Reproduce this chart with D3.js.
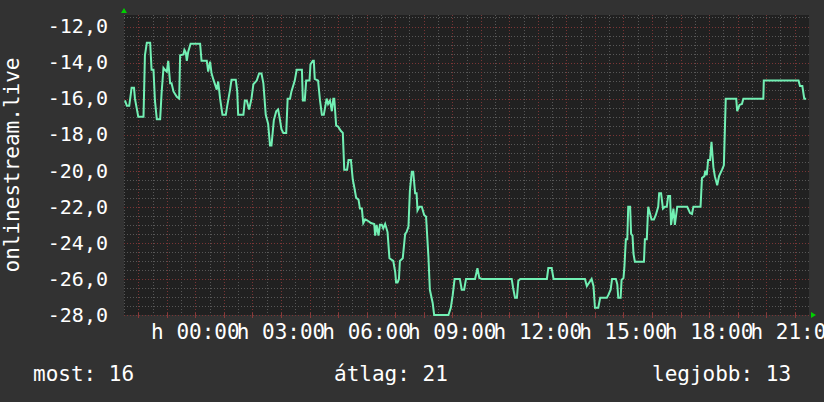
<!DOCTYPE html>
<html>
<head>
<meta charset="utf-8">
<script src="https://cdn.jsdelivr.net/npm/d3@7"></script>
<style>
  html, body { margin: 0; padding: 0; background: #323232; }
  svg { display: block; }
</style>
</head>
<body>
<script>
// minutes since window start (21:30 the day before) and the value at that time
const minutes = [
  2, 6, 11, 16, 21, 23, 30, 41, 44, 48, 55, 58, 62, 65, 69, 76, 79, 83, 86, 90,
  93, 97, 100, 104, 111, 116, 118, 125, 127, 130, 132, 135, 140, 160, 163, 174, 177, 181, 184, 188,
  195, 198, 202, 207, 214, 217, 223, 226, 235, 238, 240, 251, 254, 258, 263, 268, 272, 279, 284, 289,
  293, 298, 303, 307, 310, 315, 320, 324, 328, 331, 335, 341, 344, 349, 352, 359, 363, 374, 376, 380,
  383, 390, 392, 397, 399, 401, 408, 412, 416, 420, 426, 429, 433, 437, 440, 442, 446, 450, 456, 460,
  463, 469, 472, 477, 481, 484, 488, 493, 496, 500, 503, 507, 514, 519, 526, 528, 531, 535, 538, 542,
  545, 549, 554, 558, 566, 570, 572, 575, 578, 580, 586, 591, 594, 598, 601, 605, 608, 612, 615, 617,
  621, 626, 631, 635, 640, 643, 649, 652, 682, 687, 691, 695, 706, 710, 715, 719, 738, 743, 747, 752,
  815, 818, 822, 826, 829, 833, 889, 892, 899, 903, 969, 973, 978, 983, 987, 990, 997, 1001, 1015, 1018,
  1023, 1026, 1034, 1037, 1039, 1044, 1046, 1050, 1052, 1055, 1058, 1060, 1064, 1066, 1069, 1071, 1074, 1093, 1095, 1099,
  1102, 1106, 1109, 1114, 1118, 1123, 1125, 1129, 1133, 1137, 1141, 1144, 1148, 1150, 1155, 1158, 1163, 1184, 1190, 1194,
  1197, 1212, 1215, 1220, 1222, 1225, 1228, 1232, 1235, 1239, 1242, 1247, 1251, 1257, 1261, 1265, 1287, 1289, 1294, 1299,
  1302, 1344, 1345, 1418, 1421, 1426, 1430, 1434
];
const values = [
  -16.1, -16.4, -16.4, -15.4, -15.4, -16.0, -17.0, -17.0, -13.6, -12.9, -12.9, -14.4, -14.4, -16.1, -17.15, -17.15, -15.7, -14.3, -14.4, -14.5,
  -13.9, -15.15, -15.15, -15.6, -15.9, -16.0, -13.6, -13.55, -13.3, -13.45, -13.9, -13.4, -12.95, -12.95, -13.9, -13.9, -14.5, -13.95, -14.6, -14.95,
  -15.5, -15.05, -16.0, -16.9, -16.9, -16.4, -15.5, -14.95, -14.95, -15.6, -16.9, -16.9, -16.1, -16.1, -16.6, -16.0, -15.2, -15.0, -14.6, -14.6,
  -15.15, -16.9, -17.4, -18.6, -18.6, -17.2, -16.7, -16.6, -17.2, -17.7, -17.9, -17.9, -16.0, -16.0, -15.6, -15.0, -14.4, -14.4, -16.1, -16.1,
  -15.0, -15.0, -14.1, -13.9, -13.9, -14.9, -15.0, -16.1, -16.9, -16.9, -16.0, -16.3, -16.1, -16.7, -16.0, -16.0, -17.5, -17.55, -17.8, -17.9,
  -19.95, -19.95, -19.4, -19.4, -20.5, -20.9, -21.5, -21.6, -22.1, -22.1, -22.9, -22.7, -22.8, -22.9, -22.95, -23.6, -23.0, -23.6, -23.0, -23.0,
  -23.2, -22.95, -23.4, -24.85, -25.0, -25.6, -26.2, -26.2, -26.0, -25.0, -24.85, -23.5, -23.4, -23.1, -21.1, -20.05, -20.05, -21.25, -21.25, -22.2,
  -22.0, -22.0, -22.45, -22.55, -24.8, -26.6, -27.35, -28.0, -28.0, -27.6, -26.9, -26.0, -26.0, -26.6, -26.6, -26.0, -26.0, -25.4, -25.95, -26.0,
  -26.0, -26.5, -27.05, -27.05, -26.1, -26.0, -26.0, -25.4, -25.4, -26.0, -26.0, -26.4, -26.2, -26.0, -26.4, -27.6, -27.6, -27.05, -27.05, -26.9,
  -26.6, -26.0, -26.0, -26.3, -27.05, -27.05, -26.05, -25.95, -25.3, -23.8, -23.8, -22.0, -22.0, -23.5, -23.6, -24.6, -25.05, -25.05, -23.8, -23.8,
  -22.0, -22.4, -22.7, -22.7, -22.45, -22.0, -21.25, -21.25, -22.1, -22.0, -22.0, -21.4, -21.4, -23.0, -22.1, -23.0, -22.0, -22.0, -22.35, -22.4,
  -22.0, -22.0, -20.4, -20.3, -20.0, -20.25, -19.4, -19.4, -18.4, -19.8, -20.3, -20.8, -20.3, -19.95, -19.7, -16.0, -16.0, -16.7, -16.35, -16.3,
  -16.0, -16.0, -15.0, -15.0, -15.3, -15.3, -16.0, -16.0
];

const yTicks = [-12, -14, -16, -18, -20, -22, -24, -26, -28];
const xTickHours = [0, 3, 6, 9, 12, 15, 18, 21];
const xTickLabels = ['h 00:00', 'h 03:00', 'h 06:00', 'h 09:00', 'h 12:00', 'h 15:00', 'h 18:00', 'h 21:00'];
const axisTitle = 'onlinestream.live';
const legendLabels = ['most', 'átlag', 'legjobb'];
const legendValues = [16, 21, 13];

const width = 824, height = 402;
const startHour = 21.5; // window starts at 21:30
const plot = { left: 124, right: 809, top: 15, bottom: 315 };

const svg = d3.select('body').append('svg')
  .attr('width', width)
  .attr('height', height)
  .style('font-family', '"DejaVu Sans Mono", monospace');

svg.append('rect').attr('width', width).attr('height', height).attr('fill', '#323232');

const x = d3.scaleLinear().domain([0, 1440]).range([plot.left, plot.right]);
const y = d3.scaleLinear().domain([-28, -12]).range([plot.bottom, 26.5]);

svg.append('rect')
  .attr('x', plot.left).attr('y', plot.top)
  .attr('width', plot.right - plot.left).attr('height', plot.bottom - plot.top)
  .attr('fill', '#212121');

const grid = svg.append('g').attr('shape-rendering', 'crispEdges');

// horizontal grid, minor every 0.5, major every 2
const yTop = y.invert(plot.top);
const hMinor = d3.range(-27.5, yTop, 0.5).filter(v => Math.abs(v % 2) !== 0);
grid.selectAll('.hminor').data(hMinor).enter().append('line')
  .attr('x1', plot.left).attr('x2', plot.right)
  .attr('y1', d => Math.round(y(d)) + 0.5).attr('y2', d => Math.round(y(d)) + 0.5)
  .attr('stroke', '#575757').attr('stroke-dasharray', '1,2');

// vertical grid, minor every 30 min, major at full hours
const vAll = d3.range(0, 1440, 30);
grid.selectAll('.vline').data(vAll).enter().append('line')
  .attr('x1', d => Math.round(x(d)) + 0.5).attr('x2', d => Math.round(x(d)) + 0.5)
  .attr('y1', plot.top).attr('y2', plot.bottom)
  .attr('stroke', d => (d % 60 === 30 ? '#7a3535' : '#575757'))
  .attr('stroke-dasharray', '1,2');

grid.selectAll('.hmajor').data(yTicks).enter().append('line')
  .attr('x1', plot.left).attr('x2', plot.right)
  .attr('y1', d => Math.round(y(d)) + 0.5).attr('y2', d => Math.round(y(d)) + 0.5)
  .attr('stroke', '#7a3535').attr('stroke-dasharray', '1,2');

// small tick marks under the plot at full hours
grid.selectAll('.tick').data(d3.range(30, 1440, 60)).enter().append('line')
  .attr('x1', d => Math.round(x(d)) + 0.5).attr('x2', d => Math.round(x(d)) + 0.5)
  .attr('y1', plot.bottom - 2).attr('y2', plot.bottom + 3)
  .attr('stroke', '#8a3a3a');

// y axis labels
svg.append('g').selectAll('text').data(yTicks).enter().append('text')
  .attr('x', 108).attr('y', d => y(d))
  .attr('dy', '0.34em')
  .attr('text-anchor', 'end')
  .attr('fill', '#ffffff')
  .style('font-size', '20px')
  .text(d => d3.format('.1f')(d).replace('.', ',').replace('−', '-'));

// x axis labels
svg.append('g').selectAll('text').data(xTickHours).enter().append('text')
  .attr('x', d => x(((d - startHour + 24) % 24) * 60))
  .attr('y', 339)
  .attr('text-anchor', 'middle')
  .attr('fill', '#ffffff')
  .style('font-size', '21px')
  .text((d, i) => xTickLabels[i]);

// axis title
svg.append('text')
  .attr('transform', `translate(19,${(plot.top + plot.bottom) / 2}) rotate(-90)`)
  .attr('text-anchor', 'middle')
  .attr('fill', '#ffffff')
  .style('font-size', '21px')
  .text(axisTitle);

// data line
const pts = minutes.map((m, i) => [m, values[i]]);
const line = d3.line().x(d => x(d[0])).y(d => y(d[1]));
svg.append('path')
  .datum(pts)
  .attr('d', line)
  .attr('fill', 'none')
  .attr('stroke', '#72f0b4')
  .attr('stroke-width', 2)
  .attr('stroke-linejoin', 'miter');

// arrows
svg.append('path')
  .attr('d', `M${plot.left - 3},${plot.top - 2} L${plot.left + 3},${plot.top - 2} L${plot.left},${plot.top - 7} Z`)
  .attr('fill', '#00d000');
svg.append('path')
  .attr('d', `M${plot.right + 2},${plot.bottom - 3} L${plot.right + 2},${plot.bottom + 3} L${plot.right + 7},${plot.bottom} Z`)
  .attr('fill', '#00d000');

// legend
const legendX = [33, 334, 652];
svg.append('g').selectAll('text').data(legendLabels).enter().append('text')
  .attr('x', (d, i) => legendX[i])
  .attr('y', 381)
  .attr('fill', '#ffffff')
  .style('font-size', '21px')
  .text((d, i) => `${d}: ${legendValues[i]}`);
</script>
</body>
</html>
